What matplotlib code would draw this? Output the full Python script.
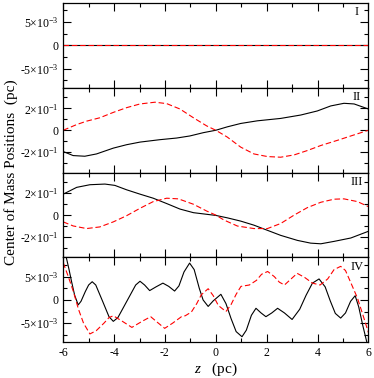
# center of mass positions, four stacked panels

import matplotlib
matplotlib.use('Agg')
import matplotlib.pyplot as plt
from matplotlib.ticker import MultipleLocator

plt.rcParams['font.family'] = ['Liberation Serif', 'DejaVu Serif']
plt.rcParams['mathtext.fontset'] = 'custom'
plt.rcParams['mathtext.rm'] = 'Liberation Serif'
plt.rcParams['mathtext.it'] = 'Liberation Serif:italic'

# panel I : both series sit at zero
z1 = [-6.0, 6.0]
black1 = [0.0, 0.0]
red1 = [0.0, 0.0]

# panel II
z2_black = [-6.0, -5.61, -5.15, -4.69, -4.03, -3.51, -2.98, -2.2, -1.54, -1.02, -0.49, 0.0,
            0.45, 0.98, 1.63, 2.55, 3.34, 3.99, 4.52, 5.04, 5.44, 6.0]
black2 = [-0.194, -0.231, -0.237, -0.216, -0.163, -0.132, -0.108, -0.086, -0.071, -0.052, -0.022, 0.0,
          0.031, 0.062, 0.086, 0.108, 0.139, 0.176, 0.222, 0.246, 0.240, 0.194]
z2_red = [-6.0, -5.47, -5.08, -4.56, -4.03, -3.51, -2.98, -2.39, -1.93, -1.41, -0.88, -0.36, 0.0,
          0.45, 0.98, 1.5, 2.03, 2.55, 3.08, 3.6, 4.13, 4.78, 5.31, 6.0]
red2 = [0.0, 0.052, 0.083, 0.114, 0.163, 0.206, 0.240, 0.256, 0.243, 0.194, 0.114, 0.040, 0.0,
        -0.062, -0.154, -0.216, -0.240, -0.246, -0.225, -0.185, -0.139, -0.092, -0.052, 0.0]

# panel III
z3_black = [-6.0, -5.47, -4.95, -4.36, -3.97, -3.51, -2.98, -2.46, -1.93, -1.41, -0.88, 0.0,
            0.45, 0.98, 1.5, 2.03, 2.55, 3.21, 3.73, 4.13, 4.65, 5.31, 6.0]
black3 = [0.191, 0.253, 0.277, 0.283, 0.271, 0.231, 0.191, 0.154, 0.105, 0.055, 0.022, -0.003,
          -0.025, -0.055, -0.092, -0.139, -0.185, -0.231, -0.256, -0.262, -0.240, -0.209, -0.148]
z3_red = [-6.0, -5.61, -5.08, -4.56, -4.03, -3.51, -2.98, -2.46, -1.93, -1.47, -0.88, -0.36, 0.0,
          0.32, 0.85, 1.5, 2.03, 2.55, 3.08, 3.6, 4.13, 4.65, 5.04, 5.57, 6.0]
red3 = [-0.062, -0.099, -0.123, -0.108, -0.062, -0.006, 0.062, 0.123, 0.154, 0.148, 0.099, 0.037, 0.0,
        -0.045, -0.100, -0.123, -0.123, -0.077, 0.0, 0.068, 0.117, 0.145, 0.148, 0.123, 0.077]

# panel IV (units of 1e-3)
z4_black = [-5.93, -5.87, -5.77, -5.67, -5.55, -5.41, -5.3, -5.13, -5.0, -4.86, -4.72, -4.45,
            -4.2, -4.03, -3.85, -3.5, -3.15, -2.98, -2.8, -2.6, -2.35, -2.08, -1.85, -1.62,
            -1.45, -1.25, -1.03, -0.85, -0.65, -0.5, -0.3, -0.1, 0.2, 0.4, 0.6, 0.8,
            1.03, 1.2, 1.4, 1.58, 1.78, 1.97, 2.2, 2.43, 2.7, 3.0, 3.3, 3.55,
            3.8, 4.06, 4.3, 4.5, 4.7, 4.91, 5.1, 5.3, 5.48, 5.62, 5.78, 5.94, 6.0]
black4 = [10.0, 8.9, 6.5, 3.9, 1.0, -1.07, -0.3, 1.8, 3.2, 3.9, 3.2, -0.3,
          -3.6, -4.6, -3.8, -0.3, 3.2, 4.0, 3.2, 2.0, 2.8, 3.6, 2.9, 1.9,
          3.0, 6.0, 7.9, 6.5, 2.5, 0.0, -1.4, -0.2, 1.2, -0.8, -4.0, -6.8,
          -7.9, -6.5, -3.3, -1.8, -2.8, -3.6, -2.8, -1.8, -2.8, -4.2, -2.0, 1.0,
          3.6, 4.5, 2.8, -0.2, -2.9, -3.9, -2.8, -0.3, 0.9, -1.5, -5.5, -9.1, -10.5]
z4_red = [-6.0, -5.8, -5.6, -5.4, -5.2, -4.95, -4.7, -4.4, -4.2, -4.03, -3.7, -3.3,
          -2.9, -2.56, -2.3, -2.01, -1.7, -1.35, -1.2, -0.96, -0.75, -0.57, -0.3, -0.1,
          0.1, 0.4, 0.6, 0.8, 0.99, 1.32, 1.6, 1.8, 2.04, 2.3, 2.5, 2.7,
          2.9, 3.2, 3.5, 3.8, 4.1, 4.4, 4.65, 4.91, 5.1, 5.3, 5.57, 5.8, 6.03]
red4 = [8.0, 5.0, 1.8, -2.0, -5.0, -7.3, -6.6, -5.0, -3.8, -3.4, -4.5, -5.9,
        -4.6, -3.6, -4.8, -6.1, -5.0, -3.6, -3.4, -2.6, -0.8, 1.1, 2.4, 0.9,
        -1.2, -2.5, -1.0, 1.2, 2.9, 3.2, 4.2, 5.5, 6.1, 5.0, 3.8, 3.2,
        4.2, 5.7, 4.8, 3.6, 3.2, 4.5, 6.5, 7.2, 6.3, 3.8, 0.4, -3.5, -7.5]

ticks_small = [-0.005, 0, 0.005]
labels_small = ['-5×10$^{-3}$', '0', '5×10$^{-3}$']
ticks_big = [-0.2, 0, 0.2]
labels_big = ['-2×10$^{-1}$', '0', '2×10$^{-1}$']
panel_names = ['I', 'II', 'III', 'IV']
xticks = [-6, -4, -2, 0, 2, 4, 6]

fig, axes = plt.subplots(4, 1, sharex=True, figsize=(3.74, 3.78), dpi=100)
plt.subplots_adjust(left=0.169, right=0.985, top=0.992, bottom=0.0944, hspace=0)

series = [
    (z1, black1, z1, red1),
    (z2_black, black2, z2_red, red2),
    (z3_black, black3, z3_red, red3),
    (z4_black, [v * 1e-3 for v in black4], z4_red, [v * 1e-3 for v in red4]),
]

for i, ax in enumerate(axes):
    zb, yb, zr, yr = series[i]
    ax.plot(zb, yb, color='black', lw=0.8)
    ax.plot(zr, yr, color='red', lw=0.8, dashes=(5, 2.5))
    if i in (0, 3):
        ax.set_ylim(-0.0091, 0.0091)
        ax.set_yticks(ticks_small)
        ax.set_yticklabels(labels_small)
        ax.yaxis.set_minor_locator(MultipleLocator(0.0025))
    else:
        ax.set_ylim(-0.387, 0.387)
        ax.set_yticks(ticks_big)
        ax.set_yticklabels(labels_big)
        ax.yaxis.set_minor_locator(MultipleLocator(0.1))
    ax.set_xlim(-6, 6)
    ax.set_xticks(xticks)
    ax.xaxis.set_minor_locator(MultipleLocator(1))
    ax.tick_params(which='both', direction='in', top=True, right=True, labelsize=8.5, width=0.8)
    ax.tick_params(which='major', length=6)
    ax.tick_params(which='minor', length=3)
    for sp in ax.spines.values():
        sp.set_linewidth(0.9)
    ax.text(0.963, 0.89, panel_names[i], transform=ax.transAxes, ha='center', va='center', fontsize=9)

axes[3].set_xticklabels([str(t) for t in xticks])
axes[3].set_xlabel('$z$   (pc)', fontsize=11, labelpad=1)
fig.text(0.03, 0.545, 'Center of Mass Positions  (pc)', rotation=90, ha='center', va='center', fontsize=11)

plt.savefig('out.png', dpi=100)
